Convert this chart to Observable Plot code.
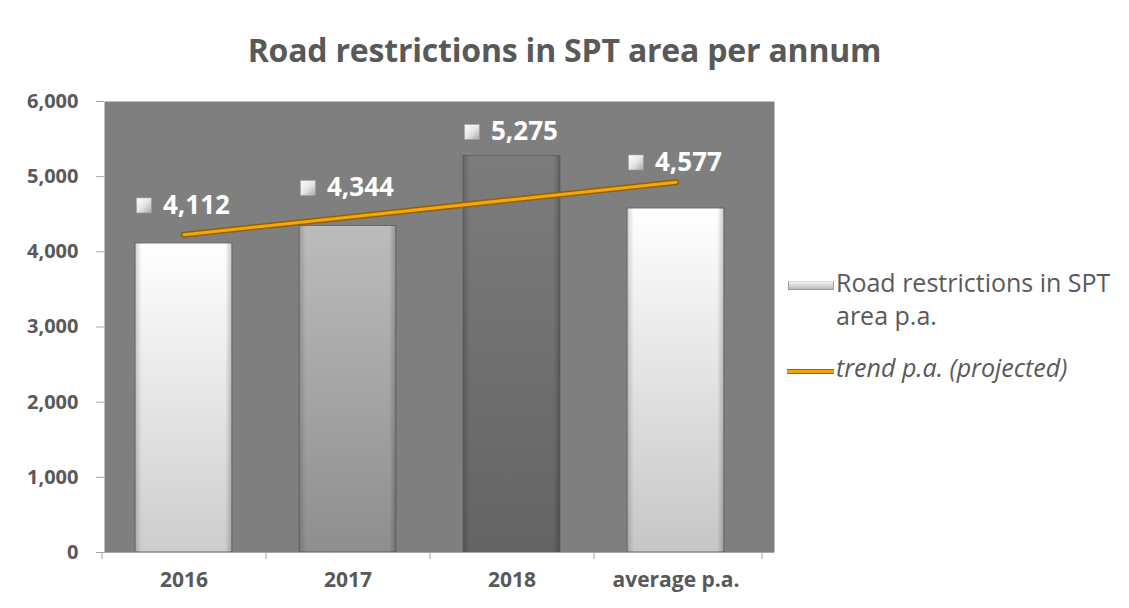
<!DOCTYPE html>
<html>
<head>
<meta charset="utf-8">
<script src="https://cdn.jsdelivr.net/npm/d3@7"></script>
<script src="https://cdn.jsdelivr.net/npm/@observablehq/plot@0.6"></script>
<style>
  html, body { margin: 0; padding: 0; background: #ffffff; }
  #wrap { position: relative; width: 1129px; height: 608px; overflow: hidden; font-family: "Open Sans", sans-serif; }
  #title { position: absolute; left: 0; top: 30px; width: 1129px; text-align: center; font-size: 32px; font-weight: 700; color: #595959; line-height: 40px; letter-spacing: -0.2px; }
  #chart { position: absolute; left: 0; top: 75px; }
  #legend { position: absolute; left: 786px; top: 266px; color: #595959; font-size: 25px; line-height: 33px; }
  .lrow { position: relative; padding-left: 50px; white-space: nowrap; }
  .sw-bar { position: absolute; left: 2px; top: 15px; width: 44px; height: 7px; background: linear-gradient(#f4f4f4, #b8b8b8); border: 1px solid #9a9a9a; border-top-color: #dcdcdc; }
  .sw-line { position: absolute; left: 1px; top: 18px; width: 47px; height: 3px; background: #f2a20c; border-top: 1px solid #9a6b00; border-bottom: 1px solid #9a6b00; }
</style>
</head>
<body>
<svg width="0" height="0" style="position:absolute">
  <defs>
    <linearGradient id="g0" x1="0" y1="0" x2="0" y2="1">
      <stop offset="0" stop-color="#ffffff"/><stop offset="1" stop-color="#cdcdcd"/>
    </linearGradient>
    <linearGradient id="g1" x1="0" y1="0" x2="0" y2="1">
      <stop offset="0" stop-color="#bcbcbc"/><stop offset="1" stop-color="#8e8e8e"/>
    </linearGradient>
    <linearGradient id="g2" x1="0" y1="0" x2="0" y2="1">
      <stop offset="0" stop-color="#7c7c7c"/><stop offset="1" stop-color="#646464"/>
    </linearGradient>
    <linearGradient id="g3" x1="0" y1="0" x2="0" y2="1">
      <stop offset="0" stop-color="#ffffff"/><stop offset="1" stop-color="#c6c6c6"/>
    </linearGradient>
    <linearGradient id="hshade" x1="0" y1="0" x2="1" y2="0">
      <stop offset="0" stop-color="#000" stop-opacity="0.18"/>
      <stop offset="0.07" stop-color="#000" stop-opacity="0"/>
      <stop offset="0.93" stop-color="#000" stop-opacity="0"/>
      <stop offset="1" stop-color="#000" stop-opacity="0.22"/>
    </linearGradient>
    <linearGradient id="gMarker" x1="0" y1="0" x2="1" y2="1">
      <stop offset="0" stop-color="#ffffff"/><stop offset="0.5" stop-color="#e6e6e6"/><stop offset="1" stop-color="#a8a8a8"/>
    </linearGradient>
  </defs>
</svg>
<div id="wrap">
  <div id="title">Road restrictions in SPT area per annum</div>
  <div id="chart"></div>
  <div id="legend">
    <div class="lrow"><span class="sw-bar"></span>Road restrictions in SPT<br>area p.a.</div>
    <div class="lrow" style="margin-top:19px;font-style:italic"><span class="sw-line"></span>trend p.a. (projected)</div>
  </div>
</div>
<script>
const categories = ["2016", "2017", "2018", "average p.a."];
const values = [4112, 4344, 5275, 4577];
const trendValues = [4228, 4461, 4694, 4926];
const valueLabels = ["4,112", "4,344", "5,275", "4,577"];
const yTicks = [0, 1000, 2000, 3000, 4000, 5000, 6000];

const data = categories.map((c, i) => ({cat: c, value: values[i], trend: trendValues[i], label: valueLabels[i], fill: `url(#g${i})`}));
const labelDy = [-38, -38, -24, -46];

const labelMarks = data.flatMap((d, i) => [
  Plot.dot([d], {x: "cat", y: "value", symbol: "square", r: 8.5, dx: -40, dy: labelDy[i], fill: "url(#gMarker)", stroke: "#9a9a9a", strokeWidth: 0.5}),
  Plot.text([d], {x: "cat", y: "value", text: "label", dx: -21, dy: labelDy[i], textAnchor: "start", fill: "#ffffff", fontSize: 26, fontWeight: "bold"})
]);

const chart = Plot.plot({
  width: 1129,
  height: 533,
  marginTop: 26,
  marginBottom: 56,
  marginLeft: 104,
  marginRight: 355,
  style: {fontFamily: "'Open Sans', sans-serif", background: "transparent"},
  x: {domain: categories, range: [102, 757], paddingInner: 0.41, paddingOuter: 0.2, label: null},
  y: {domain: [0, 6000], label: null},
  color: {type: "identity"},
  marks: [
    Plot.frame({fill: "#7f7f7f", stroke: null}),
    Plot.barY(data, {x: "cat", y: "value", fill: "fill", stroke: "#686868", strokeWidth: 1}),
    Plot.barY(data, {x: "cat", y: "value", fill: "url(#hshade)"}),
    Plot.ruleY([0], {stroke: "#a6a6a6", strokeWidth: 1}),
    Plot.ruleX(categories, {x: d => d, y1: 0, y2: 0, dx: -82, insetBottom: -7, stroke: "#a6a6a6"}),
    Plot.ruleX(categories.slice(-1), {x: d => d, y1: 0, y2: 0, dx: 86, insetBottom: -7, stroke: "#a6a6a6"}),
    Plot.lineY(data, {x: "cat", y: "trend", stroke: "#8f6300", strokeWidth: 6, strokeLinecap: "round"}),
    Plot.lineY(data, {x: "cat", y: "trend", stroke: "#f3a60e", strokeWidth: 3, strokeLinecap: "round"}),
    ...labelMarks,
    Plot.axisY({ticks: yTicks, tickFormat: d3.format(","), tickSize: 8, tickPadding: 18, fontSize: 20, fontWeight: "bold", color: "#595959", stroke: "#a6a6a6", style: {letterSpacing: "1.3px"}}),
    Plot.axisX({tickSize: 0, tickPadding: 20, fontSize: 21, fontWeight: "bold", color: "#595959"})
  ]
});
document.getElementById("chart").appendChild(chart);
</script>
</body>
</html>
